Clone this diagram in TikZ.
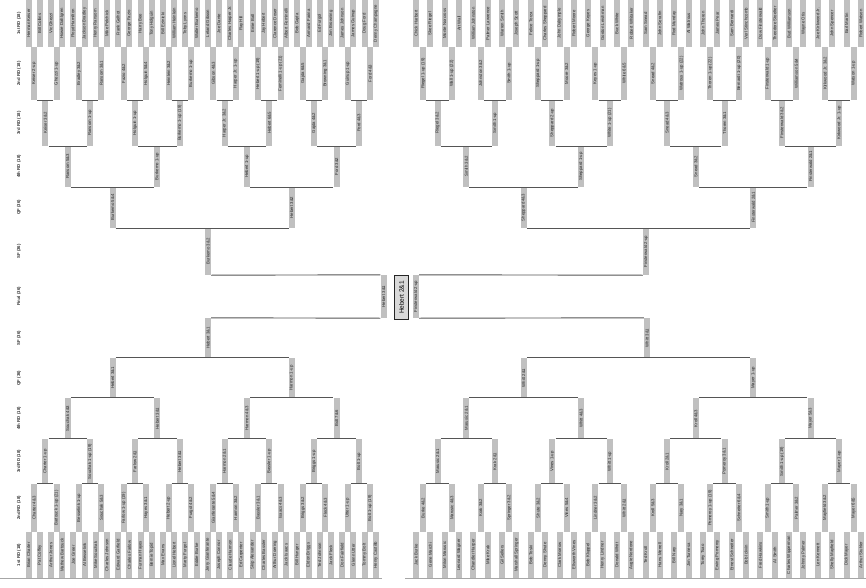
\documentclass[tikz,border=0pt]{standalone}
\usepackage{fontspec}
\setmainfont{Liberation Sans}

\definecolor{tagfill}{RGB}{192,192,192}
\definecolor{linkcol}{RGB}{85,85,85}
\newcommand{\tagsize}{\fontsize{4.3}{4.3}\selectfont}

% one row of slips: prefix, leaves per slip, x0, dx, y, height, names
\newcommand{\tagrow}[7]{%
  \foreach \nm [count=\k from 0] in {#7} {
    \pgfmathsetmacro{\xx}{#3+#4*(\k*#2+(#2-1)/2)}
    \node[slip, minimum width=#6pt] (#1-\k) at (\xx,#5) {\nm};
  }}
% bracket lines between neighbouring slips of a row: prefix, pairs, anchors
\newcommand{\joinrow}[4]{%
  \foreach \p in {1,...,#2} {
    \pgfmathtruncatemacro{\ka}{2*\p-2}
    \pgfmathtruncatemacro{\kb}{2*\p-1}
    \draw[link] (#1-\ka.#3) -- (#1-\kb.#4);
  }}

\tikzset{
  slip/.style={fill=tagfill, rotate=90, inner sep=0pt, minimum height=6pt, font=\tagsize, text=black!85},
  link/.style={draw=linkcol, line width=0.9pt},
  rowlab/.style={rotate=90, font=\tagsize\bfseries, text=black!80},
  champ/.style={rotate=90, draw=black!85, line width=1.5pt, fill=tagfill!60, inner sep=0pt,
    minimum width=44pt, minimum height=14pt, font=\fontsize{6.5}{6.5}\selectfont}
}

\begin{document}
\begin{tikzpicture}[x=1pt, y=-1pt]
\useasboundingbox (0,0) rectangle (866,588);

% round labels
\foreach \lab/\yy [count=\k] in {1st RD (18)/23.5, 2nd RD (18)/73.5, 3rd RD (18)/123, 4th RD (18)/166.5,
    QF (36)/207.5, SF (36)/251.5, Final (36)/296.5, SF (36)/338, QF (36)/378,
    4th RD (18)/418.5, 3rd RD (18)/461.5, 2nd RD (18)/508, 1st RD (18)/555}
  \node[rowlab] (lab-\k) at (19,\yy) {\lab};

% top left
\tagrow{tl1}{1}{28.5}{11.2}{23.5}{47}{Herman Keiser, Bill Collins, Vic Ghezzi, Howie Dahlgren, Floyd Hamilton,
  Jackson Bradley, Henry Ransom, Mike Pelchick, Frank Gelhot, George Fazio, Harry Bee, Tony Holguin,
  Bill Ezinicki, William Heinlein, Toby Lyons, Walter Burkemo, Leland Gibson, Joe Dante, Charles Harper Jr.,
  Ray Hill, Ernie Ball, Jay Hebert, Clarence Doser, Albert Feminelli, Bob Gajda, Armand Farina, Ed Furgol,
  Jim Browning, James Johnson, James Guinup, Doug Ford, Denny Champagne}
\tagrow{tl2}{2}{28.5}{11.2}{73.5}{53}{Keiser 2-up, Ghezzi 1-up, Bradley 3\&2, Ransom 3\&1, Fazio 4\&2,
  Holguin 5\&4, Heinlein 3\&2, Burkemo 1-up, Gibson 4\&3, Harper Jr. 1-up, Hebert 1-up (19),
  Feminelli 1-up (21), Gajda 6\&5, Browning 3\&1, Guinup 1-up, Ford 4\&3}
\tagrow{tl3}{4}{28.5}{11.2}{123}{46}{Keiser 3\&2, Ransom 1-up, Holguin 1-up, Burkemo 1-up (19),
  Harper Jr. 3\&2, Hebert 6\&5, Gajda 4\&2, Ford 4\&3}
\tagrow{tl4}{8}{28.5}{11.2}{166.5}{41}{Ransom 5\&3, Burkemo 1-up, Hebert 1-up, Ford 3\&2}
\tagrow{tl5}{16}{28.5}{11.2}{207.5}{41}{Burkemo 5\&4, Hebert 3\&2}
\node[slip, minimum width=47pt] (tl6-0) at (208,251.5) {Burkemo 3\&2};

% top right
\tagrow{tr1}{1}{416}{14.35}{23.5}{47}{Chick Harbert, Skee Riegel, Monte Norcross, Art Wall, William Johnston,
  Palmer Lawrence, Warren Smith, Joseph Scott, Felice Torza, Charles Sheppard, John Dalrymple, Robert Moore,
  George Keyes, Gordon Leishman, Buck White, Robert Whitaker, Sam Snead, John Serafin, Rod Munday,
  Al Watrous, John Thoren, James Pear, Sam Bernardi, Verl Stinchcomb, Dow Finsterwald, Theodore Stoelter,
  Bud Williamson, Wayne Otis, Joe Kirkwood Jr., John Spencer, Earl Martin, Robert Watson}
\tagrow{tr2}{2}{416}{14.35}{73.5}{53}{Riegel 1-up (19), Wall 1-up (22), Johnston 3\&2, Smith 1-up,
  Sheppard 1-up, Moore 3\&2, Keyes 1-up, White 6\&5, Snead 4\&2, Watrous 1-up (22), Thoren 1-up (22),
  Bernardi 1-up (20), Finsterwald 1-up, Williamson 5\&4, Kirkwood Jr. 3\&2, Watson 1-up}
\tagrow{tr3}{4}{416}{14.35}{123}{46}{Riegel 3\&2, Smith 1-up, Sheppard 2-up, White 1-up (21), Snead 4\&3,
  Thoren 3\&1, Finsterwald 3\&2, Kirkwood Jr. 1-up}
\tagrow{tr4}{8}{416}{14.35}{166.5}{41}{Smith 3\&2, Sheppard 1-up, Snead 3\&2, Finsterwald 2\&1}
\tagrow{tr5}{16}{416}{14.35}{207.5}{41}{Sheppard 4\&3, Finsterwald 2\&1}
\node[slip, minimum width=47pt] (tr6-0) at (646,251.5) {Finsterwald 2-up};

% bottom left
\tagrow{bl1}{1}{28.5}{11.2}{555}{46}{Brian Charter, Pat Coffey, Arthur Jones, Mathew Bartouck, Joe Greer,
  Al Besselink, Mike Souchak, Charles Johnson, Edward Garfield, Charles Farlow, Furman Hayes, Bernie Topid,
  Max Evans, Lionel Hebert, Marty Furgol, Eddie Burke, Jerry Gianferante, Joseph Connor, Claude Harmon,
  Ed Carpenter, Skip Alexander, Charles Bassler, Arthur Doering, Jack Isaacs, Bill Hunger, Eldon Briggs,
  Ted Johnson, Jack Fleck, Don Fairfield, Glenn Utter, Tommy Bolt, Henry Castillo}
\tagrow{bl2}{2}{28.5}{11.2}{508}{48}{Charter 4\&3, Bartouck 1-up (21), Besselink 1-up, Souchak 5\&3,
  Farlow 1-up (19), Hayes 3\&1, Hebert 2-up, Furgol 4\&2, Gianferante 5\&4, Harmon 3\&2, Bassler 3\&1,
  Isaacs 4\&3, Briggs 3\&2, Fleck 4\&3, Utter 1-up, Bolt 1-up (19)}
\tagrow{bl3}{4}{28.5}{11.2}{461.5}{45}{Charter 1-up, Souchak 1-up (19), Farlow 2\&1, Hebert 3\&1,
  Harmon 2\&1, Bassler 1-up, Briggs 1-up, Bolt 1-up}
\tagrow{bl4}{8}{28.5}{11.2}{418.5}{41}{Souchak 4\&3, Hebert 3\&1, Harmon 4\&3, Bolt 7\&6}
\tagrow{bl5}{16}{28.5}{11.2}{378}{40}{Hebert 3\&1, Harmon 1-up}
\node[slip, minimum width=40pt] (bl6-0) at (208,338) {Hebert 3\&1};

% bottom right
\tagrow{br1}{1}{416}{14.35}{555}{46}{Jack Burke, Gene Marchi, Milon Marusic, Leonard Wagner, Chandler Harper,
  Mike Krak, Gil Sellers, Marshall Springer, Bob Toski, Denny Shute, Clark Morrow, Ellsworth Vines,
  Bob Kluppel, Henry Lindner, Donald Whitt, Augie Nordone, Ted Kroll, Hans Merrell, Bill Nary, Jim Turnesa,
  Torey Tsao, Ewing Pomeroy, Ernest Schneiter, Bob Ickvin, Fred Hawkins, Al Smith, Charles Wipperman,
  Johnny Palmer, Len Kennett, Shelly Mayfield, Dick Mayer, Arthur Stuhler}
\tagrow{br2}{2}{416}{14.35}{508}{48}{Burke 4\&2, Marusic 4\&3, Krak 3\&2, Springer 3\&2, Shute 3\&2,
  Vines 5\&4, Lindner 3\&2, Whitt 2\&1, Kroll 5\&3, Nary 3\&1, Pomeroy 1-up (19), Schneiter 6\&4,
  Smith 1-up, Palmer 3\&2, Mayfield 3\&2, Mayer 6\&5}
\tagrow{br3}{4}{416}{14.35}{461.5}{45}{Marusic 2\&1, Krak 2\&1, Vines 1-up, Whitt 1-up, Kroll 2\&1,
  Pomeroy 3\&1, Smith 1-up (19), Mayer 1-up}
\tagrow{br4}{8}{416}{14.35}{418.5}{41}{Marusic 2\&1, Whitt 4\&3, Kroll 4\&3, Mayer 5\&3}
\tagrow{br5}{16}{416}{14.35}{378}{40}{Whitt 2\&1, Mayer 1-up}
\node[slip, minimum width=40pt] (br6-0) at (647,338) {Whitt 3\&1};

% final
\node[slip, minimum width=43pt] (finL) at (383.5,296.5) {Hebert 3\&1};
\node[slip, minimum width=43pt] (finR) at (416,296.5) {Finsterwald 2-up};
\node[champ] (champ) at (401.5,297.5) {Hebert 2\&1};

% bracket lines
\foreach \q in {tl,tr} {
  \joinrow{\q2}{8}{south west}{north west}
  \joinrow{\q3}{4}{south west}{north west}
  \joinrow{\q4}{2}{south west}{north west}
  \joinrow{\q5}{1}{south west}{north west}
}
\foreach \q in {bl,br} {
  \joinrow{\q2}{8}{south east}{north east}
  \joinrow{\q3}{4}{south east}{north east}
  \joinrow{\q4}{2}{south east}{north east}
  \joinrow{\q5}{1}{south east}{north east}
}
\draw[link] (tl6-0.south west) -- (finL.north east);
\draw[link] (bl6-0.south east) -- (finL.north west);
\draw[link] (finR.south east) -- (tr6-0.north west);
\draw[link] (finR.south west) -- (br6-0.north east);

% page edge at the bottom
\coordinate (edge-a) at (0,578);
\coordinate (edge-b) at (382,578);
\coordinate (edge-c) at (405,578);
\coordinate (edge-d) at (866,578);
\draw[black!35, line width=0.6pt] (edge-a) -- (edge-b) (edge-c) -- (edge-d);
\end{tikzpicture}
\end{document}
